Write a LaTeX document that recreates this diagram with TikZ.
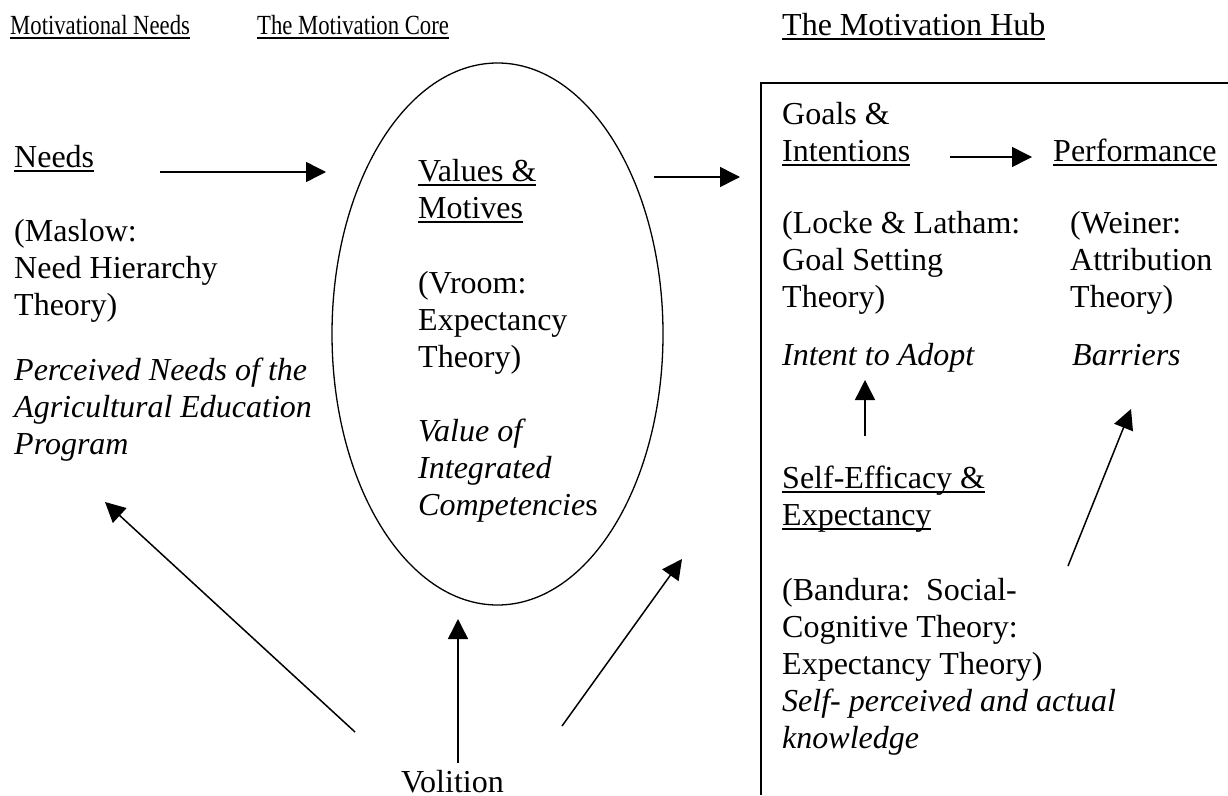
\documentclass[tikz,border=0pt]{standalone}
\usepackage{fontspec}
\setmainfont{Liberation Serif}
\newfontfamily\narrowfont[FakeStretch=0.82]{Liberation Serif}
\usetikzlibrary{arrows.meta,shapes.geometric}
% underline that runs through the descenders
\newcommand{\undl}[1]{\setbox0\hbox{#1}\rlap{\rule[-4.5pt]{\wd0}{1.8pt}}\box0}
\begin{document}
\begin{tikzpicture}[x=1pt,y=-1pt,
    txt/.style={anchor=base west,inner sep=0pt,align=left,font=\fontsize{32}{37}\selectfont},
    itxt/.style={txt,font=\fontsize{32}{37}\selectfont\itshape},
    head/.style={anchor=base west,inner sep=0pt,font=\narrowfont\fontsize{27.7}{30}\selectfont},
    arr/.style={line width=1.5pt,-{Triangle[length=20pt,width=20pt]}}]
  \useasboundingbox (0,0) rectangle (1228,795);

  % column heads
  \node[head] (hneeds) at (10,34) {\undl{Motivational Needs}};
  \node[head] (hcore) at (257,34) {\undl{The Motivation Core}};
  \node[txt] (hhub) at (782,35) {\undl{The Motivation Hub}};

  % needs (blocks sit on the baseline of their last line)
  \node[txt] (needs) at (14,167) {\undl{Needs}};
  \node[txt] (maslow) at (14,315) {(Maslow:\\Need Hierarchy\\Theory)};
  \node[itxt] (percv) at (14,454) {Perceived Needs of the\\Agricultural Education\\Program};

  % core
  \node[draw,ellipse,line width=1.3pt,minimum width=331pt,minimum height=542pt] (core) at (497.5,334) {};
  \node[txt] (values) at (418,218) {\undl{Values \&}\\\undl{Motives}};
  \node[txt] (vroom) at (418,367) {(Vroom:\\Expectancy\\Theory)};
  \node[itxt] (valueof) at (418,515) {Value of\\Integrated\\Competencie\textup{s}};
  \node[txt] (volition) at (401,792) {Volition};

  % hub
  \draw[line width=1.8pt] (761,795) -- (761,83) -- (1228,83);
  \node[txt] (goals) at (782,161) {Goals \&\\\undl{Intentions}};
  \node[txt] (perf) at (1053,161) {\undl{Performance}};
  \node[txt] (locke) at (782,307) {(Locke \& Latham:\\Goal Setting\\Theory)};
  \node[txt] (weiner) at (1070,307) {(Weiner:\\Attribution\\Theory)};
  \node[itxt] (intent) at (782,365) {Intent to Adopt};
  \node[itxt] (barriers) at (1072,365) {Barriers};
  \node[txt] (selfeff) at (782,525) {\undl{Self-Efficacy \&}\\\undl{Expectancy}};
  \node[txt] (bandura) at (782,748) {(Bandura:\ \ Social-\\Cognitive Theory:\\Expectancy Theory)\\
    \textit{Self- perceived and actual}\\\textit{knowledge}};

  % arrow ends
  \coordinate (needsR) at (160,172);
  \coordinate (coreL) at (326,172);
  \coordinate (coreR) at (654,177);
  \coordinate (hubL) at (740,177);
  \coordinate (goalsR) at (950,157);
  \coordinate (perfL) at (1032,157);
  \coordinate (selfU) at (865,436);
  \coordinate (intentD) at (865,380);
  \coordinate (bandR) at (1068,566);
  \coordinate (barrD) at (1131,409);
  \coordinate (volL) at (355,732);
  \coordinate (volM) at (458,763);
  \coordinate (volR) at (562,726);
  \coordinate (percvD) at (105,502);
  \coordinate (coreD) at (458,619);
  \coordinate (coreDR) at (682,559);

  \draw[arr] (needsR) -- (coreL);
  \draw[arr] (coreR) -- (hubL);
  \draw[arr] (goalsR) -- (perfL);
  \draw[arr] (selfU) -- (intentD);
  \draw[arr] (bandR) -- (barrD);
  \draw[arr] (volL) -- (percvD);
  \draw[arr] (volM) -- (coreD);
  \draw[arr] (volR) -- (coreDR);
\end{tikzpicture}
\end{document}
